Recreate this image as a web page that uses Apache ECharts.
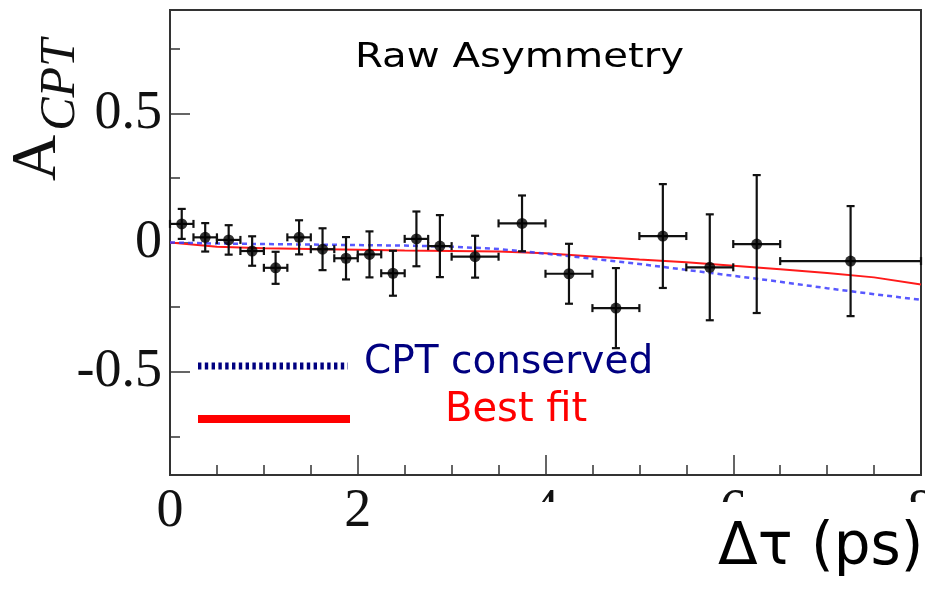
<!DOCTYPE html>
<html>
<head>
<meta charset="utf-8">
<script src="https://cdn.jsdelivr.net/npm/echarts@6/dist/echarts.min.js"></script>
<style>
  html, body { margin: 0; padding: 0; background: #fff; }
  #chart { width: 925px; height: 601px; }
</style>
</head>
<body>
<div id="chart"></div>
<script>
// ---- Data ----
const xCenters = [0.125, 0.375, 0.625, 0.875, 1.125, 1.375, 1.625, 1.875, 2.125, 2.375, 2.625, 2.875, 3.25, 3.75, 4.25, 4.75, 5.25, 5.75, 6.25, 7.25];
const xLow     = [0.0, 0.25, 0.5, 0.75, 1.0, 1.25, 1.5, 1.75, 2.0, 2.25, 2.5, 2.75, 3.0, 3.5, 4.0, 4.5, 5.0, 5.5, 6.0, 6.5];
const xHigh    = [0.25, 0.5, 0.75, 1.0, 1.25, 1.5, 1.75, 2.0, 2.25, 2.5, 2.75, 3.0, 3.5, 4.0, 4.5, 5.0, 5.5, 6.0, 6.5, 8.0];
const asymValues = [0.072, 0.020, 0.010, -0.033, -0.098, 0.020, -0.026, -0.061, -0.046, -0.119, 0.014, -0.014, -0.055, 0.074, -0.121, -0.254, 0.025, -0.096, -0.006, -0.072];
const asymErrors = [0.058, 0.055, 0.057, 0.057, 0.062, 0.066, 0.081, 0.082, 0.089, 0.087, 0.106, 0.120, 0.081, 0.108, 0.116, 0.155, 0.201, 0.205, 0.267, 0.213];

const curveX      = [0, 0.5, 1, 1.5, 2, 2.5, 3, 3.5, 4, 4.5, 5, 5.5, 6, 6.5, 7, 7.5, 8];
const bestFit     = [0, -0.016, -0.022, -0.025, -0.028, -0.031, -0.033, -0.035, -0.042, -0.054, -0.066, -0.076, -0.090, -0.104, -0.118, -0.135, -0.163];
const cptConserved= [0, -0.004, -0.006, -0.008, -0.010, -0.012, -0.016, -0.025, -0.043, -0.063, -0.083, -0.106, -0.129, -0.152, -0.177, -0.200, -0.222];

const yMajorTicks = [-0.5, 0, 0.5];
const yMinorTicks = [-0.75, -0.25, 0.25, 0.75];

const titleText = 'Raw Asymmetry';
const legendCPT = 'CPT conserved';
const legendFit = 'Best fit';
const xAxisTitle = 'Δτ (ps)';

// ---- Build ----
const errData = xCenters.map((x, i) => [x, asymValues[i], xLow[i], xHigh[i], asymErrors[i]]);
const pointData = xCenters.map((x, i) => [x, asymValues[i]]);
const fitData = curveX.map((x, i) => [x, bestFit[i]]);
const cptData = curveX.map((x, i) => [x, cptConserved[i]]);

const axisColor = '#333';
const serif = '"Liberation Serif", "DejaVu Serif", serif';
const sans = '"DejaVu Sans", sans-serif';

const chart = echarts.init(document.getElementById('chart'), null, { renderer: 'canvas' });

chart.setOption({
  animation: false,
  backgroundColor: '#fff',
  grid: {
    left: 170, right: 4, top: 10, bottom: 126,
    containLabel: false, outerBoundsMode: 'none',
    show: true, borderColor: axisColor, borderWidth: 2, backgroundColor: 'transparent'
  },
  xAxis: {
    type: 'value', min: 0, max: 8, interval: 2,
    axisLine: { show: true, onZero: false, lineStyle: { color: axisColor, width: 2 } },
    axisTick: { show: true, inside: true, length: 20, lineStyle: { color: axisColor, width: 1.5 } },
    minorTick: { show: true, splitNumber: 4, length: 10, lineStyle: { color: axisColor, width: 1.5 } },
    axisLabel: { show: true, margin: 10, fontFamily: serif, fontSize: 54, color: '#111', showMinLabel: true, showMaxLabel: true, hideOverlap: false },
    splitLine: { show: false }
  },
  yAxis: [
    {
      type: 'value', min: -0.9, max: 0.9, position: 'left',
      axisLine: { show: true, onZero: false, lineStyle: { color: axisColor, width: 2 } },
      axisTick: { show: true, inside: true, length: 20, customValues: yMajorTicks, lineStyle: { color: axisColor, width: 1.5 } },
      axisLabel: { show: true, margin: 8, customValues: yMajorTicks, fontFamily: serif, fontSize: 54, color: '#111' },
      splitLine: { show: false }
    },
    {
      type: 'value', min: -0.9, max: 0.9, position: 'left', offset: 0,
      axisLine: { show: false },
      axisTick: { show: true, inside: true, length: 10, customValues: yMinorTicks, lineStyle: { color: axisColor, width: 1.5 } },
      axisLabel: { show: false },
      splitLine: { show: false }
    }
  ],
  series: [
    {
      name: 'Best fit', type: 'line', data: fitData, showSymbol: false, symbol: 'none',
      lineStyle: { color: '#ff1a1a', width: 2 }, z: 2
    },
    {
      name: 'CPT conserved', type: 'line', data: cptData, showSymbol: false, symbol: 'none',
      lineStyle: { color: '#3b3bff', width: 2.5, type: [5, 4], opacity: 0.85 }, z: 3
    },
    {
      name: 'errors', type: 'custom', data: errData, z: 4,
      renderItem: function (params, api) {
        const x = api.value(0), y = api.value(1), xl = api.value(2), xh = api.value(3), e = api.value(4);
        const top = api.coord([x, y + e]);
        const bot = api.coord([x, y - e]);
        const L = api.coord([xl, y]);
        const R = api.coord([xh, y]);
        const cap = 4;
        const st = { stroke: '#111', lineWidth: 2.2 };
        const ln = (x1, y1, x2, y2) => ({ type: 'line', shape: { x1, y1, x2, y2 }, style: st });
        return {
          type: 'group',
          children: [
            ln(top[0], top[1], bot[0], bot[1]),
            ln(top[0] - cap, top[1], top[0] + cap, top[1]),
            ln(bot[0] - cap, bot[1], bot[0] + cap, bot[1]),
            ln(L[0], L[1], R[0], R[1]),
            ln(L[0], L[1] - cap, L[0], L[1] + cap),
            ln(R[0], R[1] - cap, R[0], R[1] + cap)
          ]
        };
      }
    },
    {
      name: 'data', type: 'scatter', data: pointData, symbol: 'circle', symbolSize: 11,
      itemStyle: { color: '#000' }, z: 5
    }
  ],
  graphic: [
    // mask hiding the lower part of the far x labels (as in the reference)
    { type: 'rect', z: 50, shape: { x: 395, y: 502, width: 540, height: 110 }, style: { fill: '#fff' } },
    // title
    { type: 'text', z: 60, x: 355, y: 58, scaleX: 1.22,
      style: { text: titleText, x: 0, y: 0, font: '33px ' + sans, fill: '#000', align: 'left', textAlign: 'left', verticalAlign: 'middle', textVerticalAlign: 'middle' } },
    // y axis title A_CPT
    { type: 'text', z: 60, x: 38, y: 158, rotation: Math.PI / 2,
      style: { text: 'A', x: 0, y: 0, font: '64px ' + serif, fill: '#111', align: 'center', textAlign: 'center', verticalAlign: 'middle', textVerticalAlign: 'middle' } },
    { type: 'text', z: 60, x: 61, y: 85, rotation: Math.PI / 2,
      style: { text: 'CPT', x: 0, y: 0, font: 'italic 50px ' + serif, fill: '#111', align: 'center', textAlign: 'center', verticalAlign: 'middle', textVerticalAlign: 'middle' } },
    // legend
    { type: 'line', z: 60, shape: { x1: 198, y1: 366, x2: 348, y2: 366 },
      style: { stroke: '#000080', lineWidth: 7, lineDash: [3.4, 3.4] } },
    { type: 'text', z: 60, x: 364, y: 363,
      style: { text: legendCPT, x: 0, y: 0, font: '39px ' + sans, fill: '#000080', align: 'left', textAlign: 'left', verticalAlign: 'middle', textVerticalAlign: 'middle' } },
    { type: 'line', z: 60, shape: { x1: 198, y1: 419, x2: 350, y2: 419 },
      style: { stroke: '#ff0000', lineWidth: 8 } },
    { type: 'text', z: 60, x: 445, y: 411,
      style: { text: legendFit, x: 0, y: 0, font: '40px ' + sans, fill: '#ff0000', align: 'left', textAlign: 'left', verticalAlign: 'middle', textVerticalAlign: 'middle' } },
    // x axis title
    { type: 'text', z: 60, x: 718, y: 549,
      style: { text: xAxisTitle, x: 0, y: 0, font: '58px ' + sans, fill: '#000', align: 'left', textAlign: 'left', verticalAlign: 'middle', textVerticalAlign: 'middle' } }
  ]
});
</script>
</body>
</html>
